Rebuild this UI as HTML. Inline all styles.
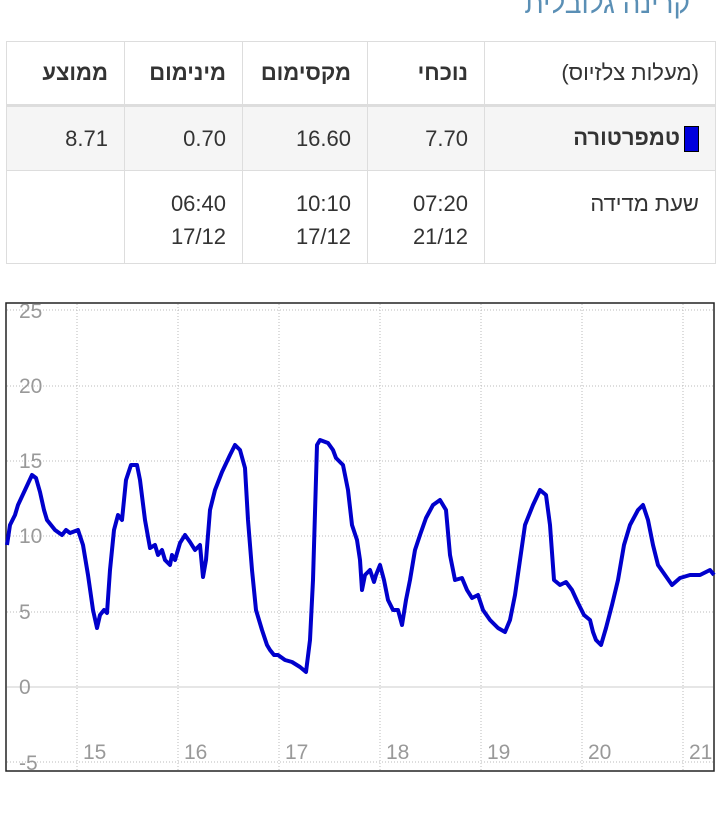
<!DOCTYPE html>
<html><head><meta charset="utf-8"><style>
body{margin:0;width:720px;height:817px;background:#fff;font-family:"Liberation Sans","Noto Sans CJK SC",sans-serif;position:relative;overflow:hidden}
.t{position:absolute;right:30px;top:-12px;font-size:28px;color:#5a8fb5}
table{position:absolute;left:6px;top:41px;width:709px;table-layout:fixed;border-collapse:collapse;direction:rtl;font-size:22px;color:#333}
td,th{border:1px solid #ddd;text-align:right;padding:0 16px;white-space:nowrap;overflow:hidden}
th{font-weight:bold;height:62px;border-bottom:3px solid #ddd}
th:first-child{font-weight:normal}
tr.r2 td{background:#f5f5f5;height:63px}
tr.r3 td{height:76px;vertical-align:top;padding-top:16px;line-height:33px}
.sq{display:inline-block;width:13px;height:24px;background:#0000dd;border:1px solid #000;vertical-align:middle;margin-left:4px}
</style></head><body>
<div class="t">קרינה גלובלית</div>
<table>
<colgroup><col style="width:231px"><col style="width:117px"><col style="width:125px"><col style="width:118px"><col style="width:118px"></colgroup>
<tr><th>(מעלות צלזיוס)</th><th>נוכחי</th><th>מקסימום</th><th>מינימום</th><th>ממוצע</th></tr>
<tr class="r2"><td><span class="sq"></span><b>טמפרטורה</b></td><td>7.70</td><td>16.60</td><td>0.70</td><td>8.71</td></tr>
<tr class="r3"><td>שעת מדידה</td><td>07:20<br>21/12</td><td>10:10<br>17/12</td><td>06:40<br>17/12</td><td></td></tr>
</table>
<svg style="position:absolute;left:0;top:0" width="720" height="817">
<g stroke="#bbb" stroke-dasharray="1,2" stroke-width="1">
<line x1="7" x2="713" y1="310" y2="310"/><line x1="7" x2="713" y1="386" y2="386"/><line x1="7" x2="713" y1="461" y2="461"/><line x1="7" x2="713" y1="536" y2="536"/><line x1="7" x2="713" y1="612" y2="612"/><line x1="7" x2="713" y1="762" y2="762"/>
<line x1="77" x2="77" y1="304" y2="770"/><line x1="178" x2="178" y1="304" y2="770"/><line x1="279" x2="279" y1="304" y2="770"/><line x1="380" x2="380" y1="304" y2="770"/><line x1="481" x2="481" y1="304" y2="770"/><line x1="582" x2="582" y1="304" y2="770"/><line x1="683" x2="683" y1="304" y2="770"/>
</g>
<line x1="7" x2="713" y1="687" y2="687" stroke="#ccc" stroke-width="1"/>
<rect x="6" y="303" width="708" height="468" fill="none" stroke="#222" stroke-width="1.5"/>
<g font-size="21" fill="#999" font-family="Liberation Sans,sans-serif">
<text x="19" y="318">25</text><text x="19" y="393">20</text><text x="19" y="468">15</text><text x="19" y="543">10</text><text x="19" y="619">5</text><text x="19" y="694">0</text><text x="19" y="770">-5</text>
<text x="83" y="759">15</text><text x="184" y="759">16</text><text x="285" y="759">17</text><text x="386" y="759">18</text><text x="487" y="759">19</text><text x="588" y="759">20</text><text x="689" y="759">21</text>
</g>
<polyline fill="none" stroke="#0000cc" stroke-width="4" stroke-linejoin="round" points="7,545 10,525 15,515 18,505 25,490 32,475 36,478 40,492 44,510 47,520 55,530 62,535 66,530 70,533 78,530 83,545 88,575 93,610 97,628 100,615 104,610 107,613 110,570 114,530 118,515 122,520 126,480 131,465 137,465 140,480 145,520 150,548 155,545 158,555 162,550 165,560 170,565 172,555 175,560 180,543 185,535 190,542 195,550 200,545 203,577 206,560 210,510 215,490 222,472 230,455 235,445 240,450 245,468 248,520 252,570 256,610 262,630 267,645 270,650 274,655 278,655 285,660 292,662 300,667 306,672 310,640 313,580 317,445 320,440 328,443 333,450 336,458 343,465 348,490 352,525 357,540 360,560 362,590 365,575 370,570 374,582 376,575 380,565 384,580 388,600 393,610 398,610 402,625 406,600 410,580 415,550 420,535 426,518 433,505 440,500 446,510 450,555 455,580 462,578 467,590 472,598 478,595 483,610 490,620 498,628 505,632 510,620 515,595 520,560 525,525 533,505 540,490 546,495 550,525 554,580 560,585 566,582 572,590 578,603 584,615 590,620 593,632 596,640 601,645 606,628 612,605 618,580 624,545 630,525 638,510 643,505 648,520 653,545 658,565 665,575 672,585 680,578 690,575 700,575 710,570 714,575"/>
</svg>
</body></html>
